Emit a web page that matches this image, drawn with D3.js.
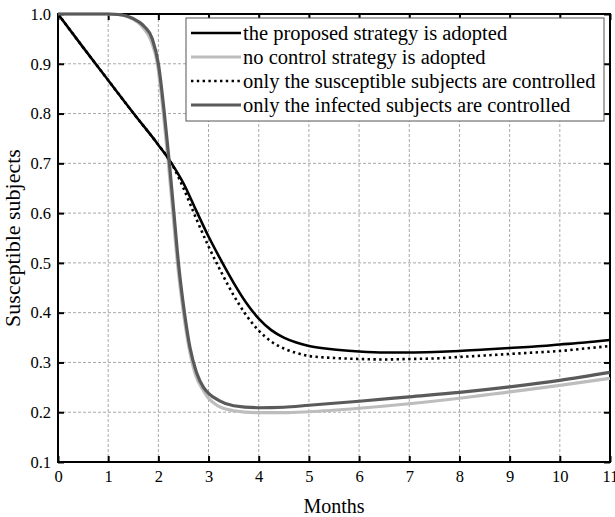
<!DOCTYPE html>
<html>
<head>
<meta charset="utf-8">
<script src="https://cdn.jsdelivr.net/npm/d3@7/dist/d3.min.js"></script>
<style>
  html, body { margin: 0; padding: 0; background: #fff; }
  svg { display: block; }
  text { font-family: "Liberation Serif", "Times New Roman", serif; fill: #000; }
</style>
</head>
<body>
<svg id="chart" width="615" height="517"></svg>
<script>
// Axis ticks
const xTicks = [0, 1, 2, 3, 4, 5, 6, 7, 8, 9, 10, 11];
const yTicks = [0.1, 0.2, 0.3, 0.4, 0.5, 0.6, 0.7, 0.8, 0.9, 1.0];

// Series labels
const seriesNames = [
  "the proposed strategy is adopted",
  "no control strategy is adopted",
  "only the susceptible subjects are controlled",
  "only the infected subjects are controlled"
];

// Susceptible fraction over time, one [month, value] list per strategy
const proposed = [
  [0, 1.000], [0.5, 0.933], [1.0, 0.867], [1.5, 0.801], [2.0, 0.737], [2.25, 0.702],
  [2.5, 0.660], [2.75, 0.606], [3.0, 0.553], [3.25, 0.505], [3.5, 0.460], [3.75, 0.420],
  [4.0, 0.388], [4.25, 0.365], [4.5, 0.350], [4.75, 0.340], [5.0, 0.333], [5.5, 0.326],
  [6.0, 0.322], [6.5, 0.320], [7.0, 0.320], [7.5, 0.321], [8.0, 0.323], [8.5, 0.326],
  [9.0, 0.329], [9.5, 0.332], [10.0, 0.336], [10.5, 0.340], [11.0, 0.345]
];
const noControl = [
  [0, 1.000], [0.5, 1.000], [1.0, 1.000], [1.2, 0.999], [1.4, 0.994], [1.6, 0.983],
  [1.7, 0.972], [1.86, 0.945], [1.98, 0.900], [2.10, 0.800], [2.20, 0.700], [2.29, 0.600],
  [2.38, 0.500], [2.50, 0.400], [2.61, 0.330], [2.74, 0.275], [2.9, 0.243], [3.0, 0.228],
  [3.2, 0.212], [3.5, 0.203], [4.0, 0.199], [4.5, 0.199], [5.0, 0.201], [6.0, 0.208],
  [7.0, 0.217], [8.0, 0.228], [9.0, 0.241], [10.0, 0.254], [11.0, 0.268]
];
const susceptibleOnly = [
  [0, 1.000], [0.5, 0.933], [1.0, 0.867], [1.5, 0.801], [2.0, 0.737], [2.25, 0.702],
  [2.5, 0.650], [2.75, 0.590], [3.0, 0.533], [3.25, 0.482], [3.5, 0.435], [3.75, 0.395],
  [4.0, 0.364], [4.25, 0.342], [4.5, 0.328], [4.75, 0.319], [5.0, 0.313], [5.5, 0.309],
  [6.0, 0.307], [6.5, 0.306], [7.0, 0.307], [7.5, 0.308], [8.0, 0.311], [8.5, 0.314],
  [9.0, 0.317], [9.5, 0.320], [10.0, 0.323], [10.5, 0.328], [11.0, 0.333]
];
const infectedOnly = [
  [0, 1.000], [0.5, 1.000], [1.0, 1.000], [1.2, 0.999], [1.4, 0.995], [1.6, 0.985],
  [1.72, 0.975], [1.88, 0.950], [2.0, 0.900], [2.12, 0.800], [2.22, 0.700], [2.31, 0.600],
  [2.40, 0.500], [2.52, 0.400], [2.63, 0.330], [2.76, 0.280], [2.9, 0.250], [3.0, 0.238],
  [3.2, 0.224], [3.5, 0.213], [4.0, 0.209], [4.5, 0.210], [5.0, 0.214], [6.0, 0.222],
  [7.0, 0.231], [8.0, 0.240], [9.0, 0.251], [10.0, 0.264], [11.0, 0.280]
];

const seriesData = [proposed, noControl, susceptibleOnly, infectedOnly];
const seriesStyle = [
  { color: "#000000", width: 2.6, dash: null },
  { color: "#bdbdbd", width: 3.2, dash: null },
  { color: "#000000", width: 2.6, dash: "2.4 3.4" },
  { color: "#5a5a5a", width: 3.2, dash: null }
];
// drawing order: light gray underneath, dark gray on top
const drawOrder = [1, 0, 2, 3];

const svg = d3.select("#chart");
const plotL = 58, plotR = 610, plotT = 14, plotB = 462;

const x = d3.scaleLinear().domain([0, 11]).range([plotL, plotR]);
const y = d3.scaleLinear().domain([0.1, 1.0]).range([plotB, plotT]);

// grid
const grid = svg.append("g").attr("stroke", "#a8a8a8").attr("stroke-width", 1)
  .attr("stroke-dasharray", "3 2");
grid.selectAll(".gx").data(xTicks.slice(1, -1)).join("line")
  .attr("x1", d => x(d)).attr("x2", d => x(d)).attr("y1", plotT).attr("y2", plotB);
grid.selectAll(".gy").data(yTicks.slice(1, -1)).join("line")
  .attr("x1", plotL).attr("x2", plotR).attr("y1", d => y(d)).attr("y2", d => y(d));

// axes with inward ticks on all four sides
const tick = 6;
svg.append("g").attr("transform", `translate(0,${plotB})`)
  .call(d3.axisBottom(x).tickValues(xTicks).tickSizeInner(-tick).tickSizeOuter(0).tickPadding(8).tickFormat(d3.format("d")));
svg.append("g").attr("transform", `translate(0,${plotT})`)
  .call(d3.axisTop(x).tickValues(xTicks).tickSizeInner(-tick).tickSizeOuter(0).tickFormat(""));
svg.append("g").attr("transform", `translate(${plotL},0)`)
  .call(d3.axisLeft(y).tickValues(yTicks).tickSizeInner(-tick).tickSizeOuter(0).tickPadding(7).tickFormat(d3.format(".1f")));
svg.append("g").attr("transform", `translate(${plotR},0)`)
  .call(d3.axisRight(y).tickValues(yTicks).tickSizeInner(-tick).tickSizeOuter(0).tickFormat(""));

svg.selectAll(".domain").remove();
svg.selectAll(".tick line").attr("stroke", "#000").attr("stroke-width", 2);
svg.selectAll(".tick text").style("font-size", "16.5px").style("font-family", "'Liberation Serif', serif").attr("fill", "#000");

// frame
svg.append("rect").attr("x", plotL).attr("y", plotT).attr("width", plotR - plotL).attr("height", plotB - plotT)
  .attr("fill", "none").attr("stroke", "#000").attr("stroke-width", 2);

// curves
const line = d3.line().x(d => x(d[0])).y(d => y(d[1])).curve(d3.curveMonotoneX);
drawOrder.forEach(i => {
  const s = seriesStyle[i];
  svg.append("path").datum(seriesData[i])
    .attr("d", line).attr("fill", "none")
    .attr("stroke", s.color).attr("stroke-width", s.width)
    .attr("stroke-linejoin", "round")
    .attr("stroke-dasharray", s.dash);
});

// legend
const lg = svg.append("g");
const lgX = 186, lgY = 18, lgW = 418, lgH = 103, rowH = 24, row0 = 33;
lg.append("rect").attr("x", lgX).attr("y", lgY).attr("width", lgW).attr("height", lgH)
  .attr("fill", "#fff").attr("stroke", "#555").attr("stroke-width", 1);
seriesNames.forEach((name, i) => {
  const s = seriesStyle[i];
  const ry = row0 + i * rowH;
  lg.append("line").attr("x1", 191).attr("x2", 241).attr("y1", ry).attr("y2", ry)
    .attr("stroke", s.color).attr("stroke-width", s.width).attr("stroke-dasharray", s.dash);
  lg.append("text").attr("x", 243).attr("y", ry).attr("dy", "0.33em")
    .style("font-size", "20.5px").text(name);
});

// axis titles
svg.append("text").attr("x", (plotL + plotR) / 2).attr("y", 513)
  .attr("text-anchor", "middle").style("font-size", "20px").text("Months");
svg.append("text").attr("transform", `translate(20,${(plotT + plotB) / 2}) rotate(-90)`)
  .attr("text-anchor", "middle").style("font-size", "22px").text("Susceptible subjects");
</script>
</body>
</html>
